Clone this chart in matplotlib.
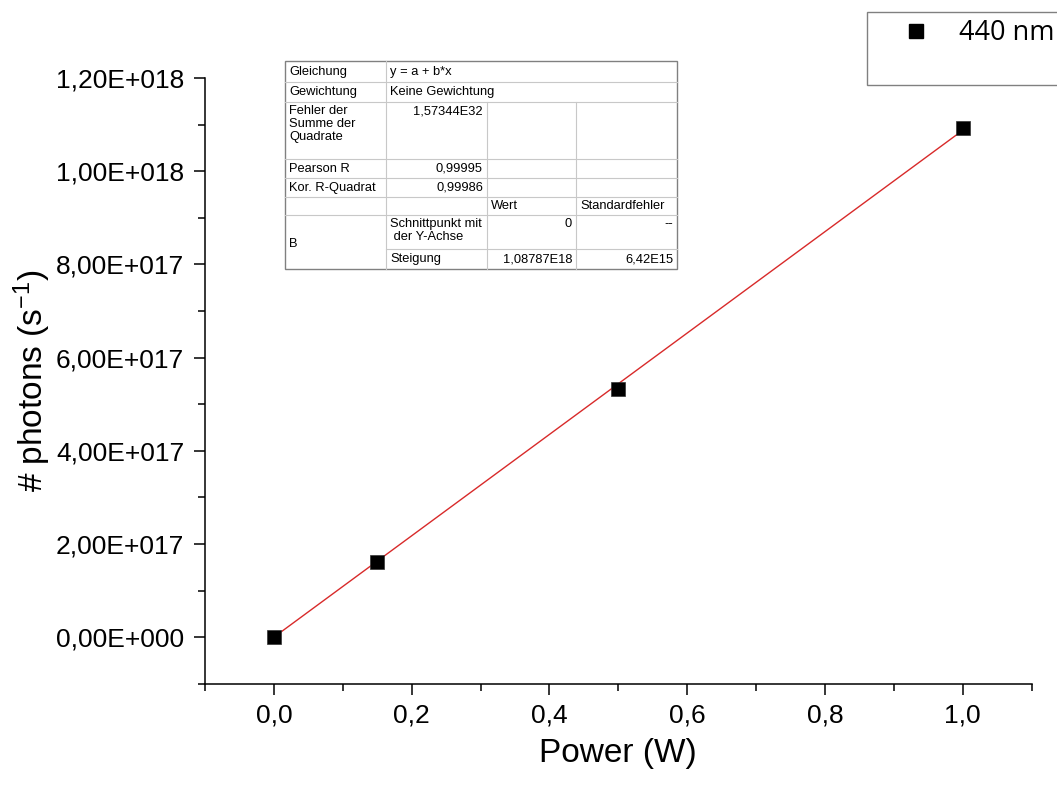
import matplotlib
matplotlib.use("Agg")
import matplotlib.pyplot as plt
from matplotlib.ticker import MultipleLocator, FuncFormatter
from matplotlib.patches import Rectangle
from matplotlib.lines import Line2D

plt.rcParams['font.family'] = ['Liberation Sans', 'DejaVu Sans']
plt.rcParams['mathtext.default'] = 'regular'

# Messwerte
power = [0.0, 0.15, 0.5, 1.0]
photons = [0.0, 1.62e17, 5.32e17, 1.093e18]
slope = 1.08787e18
fit_x = [0.0, 1.0]
series_label = "440 nm"

# Tabelle mit den Fit-Ergebnissen
table_rows = [
    ["Gleichung", "y = a + b*x", "", ""],
    ["Gewichtung", "Keine Gewichtung", "", ""],
    ["Fehler der\nSumme der\nQuadrate", "1,57344E32", "", ""],
    ["Pearson R", "0,99995", "", ""],
    ["Kor. R-Quadrat", "0,99986", "", ""],
    ["", "", "Wert", "Standardfehler"],
    ["B", "Schnittpunkt mit\n der Y-Achse", "0", "--"],
    ["", "Steigung", "1,08787E18", "6,42E15"],
]


def sci_fmt(v, pos):
    if v == 0:
        return "0,00E+000"
    s = "%.2E" % v
    m, e = s.split("E")
    return m.replace(".", ",") + "E" + e[0] + e[1:].zfill(3)


fig = plt.figure(figsize=(10.57, 7.85), dpi=100)
ax = fig.add_axes([0.194, 0.129, 0.782, 0.7716])

fit_y = [slope * x for x in fit_x]
ax.plot(fit_x, fit_y, color="#d82a2a", lw=1.0, zorder=2)
pts, = ax.plot(power, photons, "s", color="black", ms=10, mec="#333333",
               mew=0.5, zorder=3)

ax.set_xlim(-0.1, 1.1)
ax.set_ylim(-1e17, 1.2e18)
ax.xaxis.set_major_locator(MultipleLocator(0.2))
ax.xaxis.set_minor_locator(MultipleLocator(0.1))
ax.yaxis.set_major_locator(MultipleLocator(2e17))
ax.yaxis.set_minor_locator(MultipleLocator(1e17))
ax.yaxis.set_major_formatter(FuncFormatter(sci_fmt))
ax.xaxis.set_major_formatter(FuncFormatter(lambda v, p: ("%.1f" % v).replace(".", ",")))
ax.yaxis.get_offset_text().set_visible(False)

for side in ["top", "right"]:
    ax.spines[side].set_visible(False)
for side in ["left", "bottom"]:
    ax.spines[side].set_linewidth(1.1)

ax.tick_params(which="major", direction="out", length=8, width=1.1,
               labelsize=19, pad=6)
ax.tick_params(which="minor", direction="out", length=5, width=1.1)
ax.tick_params(axis="y", which="major", pad=7)

ax.set_xlabel("Power (W)", fontsize=24, labelpad=8)
ax.set_ylabel("# photons (s$^{-1}$)", fontsize=24, labelpad=2)

# Overlay in Pixelkoordinaten fuer Tabelle und Legendenrahmen
ov = fig.add_axes([0, 0, 1, 1], zorder=5)
ov.set_xlim(0, 1057)
ov.set_ylim(785, 0)
ov.axis("off")
ov.patch.set_alpha(0)

cols = [285, 386, 487, 576, 677]
rows = [61, 82, 102, 159, 178, 197, 215, 249, 269]
inner = "#c8c8c8"
outer = "#808080"
tfs = 9.3

ov.add_patch(Rectangle((cols[0], rows[0]), cols[-1] - cols[0], rows[-1] - rows[0],
                       facecolor="white", edgecolor="none"))
for i, y in enumerate(rows[1:-1], start=1):
    x0 = cols[1] if i == 7 else cols[0]
    ov.plot([x0, cols[-1]], [y, y], color=inner, lw=0.8)
ov.plot([cols[1], cols[1]], [rows[0], rows[-1]], color=inner, lw=0.8)
for c in cols[2:4]:
    ov.plot([c, c], [rows[2], rows[-1]], color=inner, lw=0.8)
ov.add_patch(Rectangle((cols[0], rows[0]), cols[-1] - cols[0], rows[-1] - rows[0],
                       facecolor="none", edgecolor=outer, lw=1.0))

for r, row in enumerate(table_rows):
    y0, y1 = rows[r], rows[r + 1]
    for c, txt in enumerate(row):
        if not txt:
            continue
        multi = "\n" in txt or r in (2, 6)
        if r == 6 and c == 0:
            ov.text(cols[0] + 4, (rows[6] + rows[8]) / 2 + 2, txt, fontsize=tfs,
                    va="center", ha="left")
            continue
        right = c in (2, 3) and r in (6, 7) or (c == 1 and r in (2, 3, 4))
        x = cols[c + 1] - 4 if right else cols[c] + 4
        if multi:
            ov.text(x, y0 + 3, txt, fontsize=tfs, va="top",
                    ha="right" if right else "left", linespacing=1.1)
        else:
            ov.text(x, (y0 + y1) / 2, txt, fontsize=tfs, va="center",
                    ha="right" if right else "left")

# Legende
ov.add_patch(Rectangle((867, 12), 240, 73, facecolor="white",
                       edgecolor="#808080", lw=1.0))
handle = Line2D([], [], marker="s", ls="none", color="black", ms=9.5)
fig.legend([handle], [series_label], loc="center left",
           bbox_to_anchor=(902 / 1057, 1 - 33 / 785), frameon=False,
           prop={"family": "Open Sans", "size": 19.5}, handletextpad=1.1,
           handlelength=1.0, borderpad=0, borderaxespad=0)

fig.savefig("out.png", dpi=100)
